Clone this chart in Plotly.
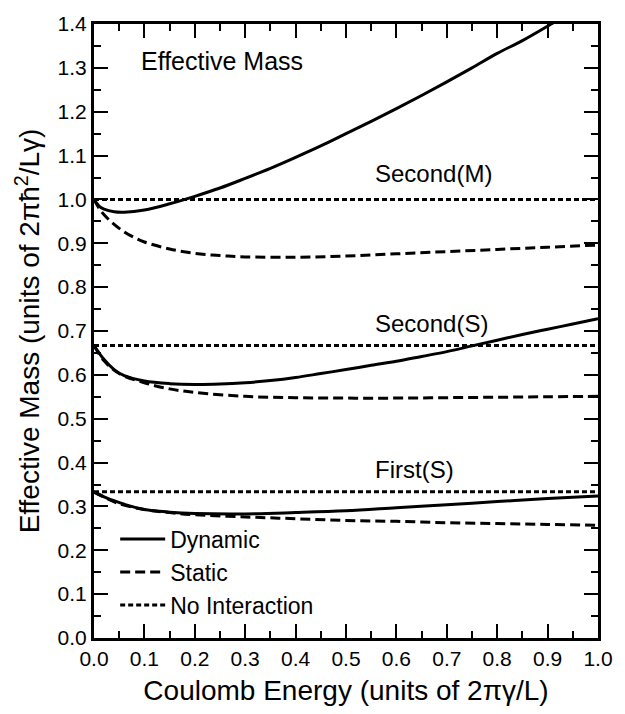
import plotly.graph_objects as go

FONT = "Liberation Sans, Arial, sans-serif"

# Second(M)
m_dyn_x = [0.0, 0.01, 0.02, 0.04, 0.06, 0.1, 0.15, 0.2, 0.25, 0.3, 0.35, 0.4, 0.45, 0.5, 0.55, 0.6, 0.65, 0.7, 0.75, 0.8, 0.85, 0.9, 0.95]
m_dyn_y = [1.0, 0.985, 0.978, 0.972, 0.971, 0.976, 0.99, 1.007, 1.026, 1.048, 1.071, 1.096, 1.122, 1.15, 1.178, 1.207, 1.237, 1.268, 1.3, 1.333, 1.362, 1.395, 1.43]
m_sta_x = [0.0, 0.01, 0.02, 0.04, 0.06, 0.08, 0.1, 0.15, 0.2, 0.25, 0.3, 0.4, 0.5, 0.6, 0.7, 0.8, 0.9, 1.0]
m_sta_y = [1.0, 0.98, 0.965, 0.943, 0.926, 0.913, 0.903, 0.887, 0.877, 0.872, 0.869, 0.868, 0.871, 0.876, 0.881, 0.886, 0.891, 0.896]

# Second(S)
s2_dyn_x = [0.0, 0.02, 0.04, 0.06, 0.1, 0.15, 0.2, 0.25, 0.3, 0.35, 0.4, 0.45, 0.5, 0.55, 0.6, 0.65, 0.7, 0.75, 0.8, 0.85, 0.9, 0.95, 1.0]
s2_dyn_y = [0.667, 0.635, 0.612, 0.598, 0.586, 0.58, 0.578, 0.579, 0.582, 0.587, 0.594, 0.603, 0.612, 0.622, 0.631, 0.642, 0.653, 0.666, 0.679, 0.692, 0.704, 0.716, 0.728]
s2_sta_x = [0.0, 0.02, 0.05, 0.1, 0.15, 0.2, 0.3, 0.4, 0.5, 0.6, 0.7, 0.8, 0.9, 1.0]
s2_sta_y = [0.667, 0.632, 0.603, 0.582, 0.568, 0.56, 0.551, 0.548, 0.547, 0.547, 0.548, 0.549, 0.55, 0.551]

# First(S)
s1_dyn_x = [0.0, 0.02, 0.04, 0.06, 0.1, 0.15, 0.2, 0.3, 0.4, 0.5, 0.6, 0.7, 0.8, 0.9, 1.0]
s1_dyn_y = [0.333, 0.322, 0.313, 0.305, 0.293, 0.287, 0.284, 0.283, 0.286, 0.29, 0.297, 0.304, 0.311, 0.318, 0.324]
s1_sta_x = [0.0, 0.02, 0.05, 0.1, 0.15, 0.2, 0.3, 0.4, 0.5, 0.6, 0.7, 0.8, 0.9, 1.0]
s1_sta_y = [0.333, 0.321, 0.306, 0.293, 0.286, 0.281, 0.276, 0.272, 0.268, 0.266, 0.263, 0.261, 0.259, 0.257]

# No interaction levels
free_x = [0.0, 1.0]
free_levels = [1.0, 2.0 / 3.0, 1.0 / 3.0]

labels = ["Second(M)", "Second(S)", "First(S)"]
label_x = [0.553, 0.553, 0.553]
label_y = [1.059, 0.718, 0.385]

SOLID = dict(color="black", width=3)
DASHED = dict(color="black", width=3, dash="10px,5px")
DOTTED = dict(color="black", width=3, dash="5px,3px")

fig = go.Figure()
fig.add_trace(go.Scatter(x=m_dyn_x, y=m_dyn_y, mode="lines", line=SOLID, name="Dynamic", line_shape="spline"))
fig.add_trace(go.Scatter(x=s2_dyn_x, y=s2_dyn_y, mode="lines", line=SOLID, showlegend=False, line_shape="spline"))
fig.add_trace(go.Scatter(x=s1_dyn_x, y=s1_dyn_y, mode="lines", line=SOLID, showlegend=False, line_shape="spline"))
fig.add_trace(go.Scatter(x=m_sta_x, y=m_sta_y, mode="lines", line=DASHED, name="Static", line_shape="spline"))
fig.add_trace(go.Scatter(x=s2_sta_x, y=s2_sta_y, mode="lines", line=DASHED, showlegend=False, line_shape="spline"))
fig.add_trace(go.Scatter(x=s1_sta_x, y=s1_sta_y, mode="lines", line=DASHED, showlegend=False, line_shape="spline"))
for i, lv in enumerate(free_levels):
    fig.add_trace(go.Scatter(x=free_x, y=[lv, lv], mode="lines", line=DOTTED,
                             name="No Interaction", showlegend=(i == 0)))

for t, x, y in zip(labels, label_x, label_y):
    fig.add_annotation(x=x, y=y, text=t, showarrow=False, xanchor="left", yanchor="middle",
                       font=dict(size=24, color="black", family=FONT))
fig.add_annotation(x=0.254, y=1.315, text="Effective Mass", showarrow=False, xanchor="center",
                   yanchor="middle", font=dict(size=25, color="black", family=FONT))

axis_common = dict(
    showline=True, linecolor="black", linewidth=3, mirror="allticks",
    ticks="inside", ticklen=14, tickwidth=1.5, tickcolor="black",
    showgrid=False, zeroline=False, tickformat=".1f",
    tickfont=dict(size=21, color="black", family=FONT),
    minor=dict(ticks="inside", ticklen=7, tickwidth=1.5, tickcolor="black", showgrid=False),
)

fig.update_xaxes(range=[0, 1.0], dtick=0.1, tick0=0, minor_dtick=0.05,
                 title=dict(text="Coulomb Energy (units of 2πγ/L)", font=dict(size=28, color="black", family=FONT), standoff=12),
                 **axis_common)
fig.update_yaxes(range=[0, 1.4], dtick=0.1, tick0=0, minor_dtick=0.05,
                 title=dict(text="Effective Mass (units of 2πħ<sup>2</sup>/Lγ)", font=dict(size=28, color="black", family=FONT), standoff=10),
                 **axis_common)

fig.update_layout(
    width=625, height=714,
    margin=dict(l=94, r=19, t=15, b=76),
    plot_bgcolor="white", paper_bgcolor="white",
    font=dict(family=FONT, color="black"),
    legend=dict(x=0.042, y=0.196, xanchor="left", yanchor="top", bgcolor="rgba(0,0,0,0)",
                font=dict(size=23, color="black", family=FONT), itemwidth=45,
                tracegroupgap=0),
)

fig.write_html("out.html")
